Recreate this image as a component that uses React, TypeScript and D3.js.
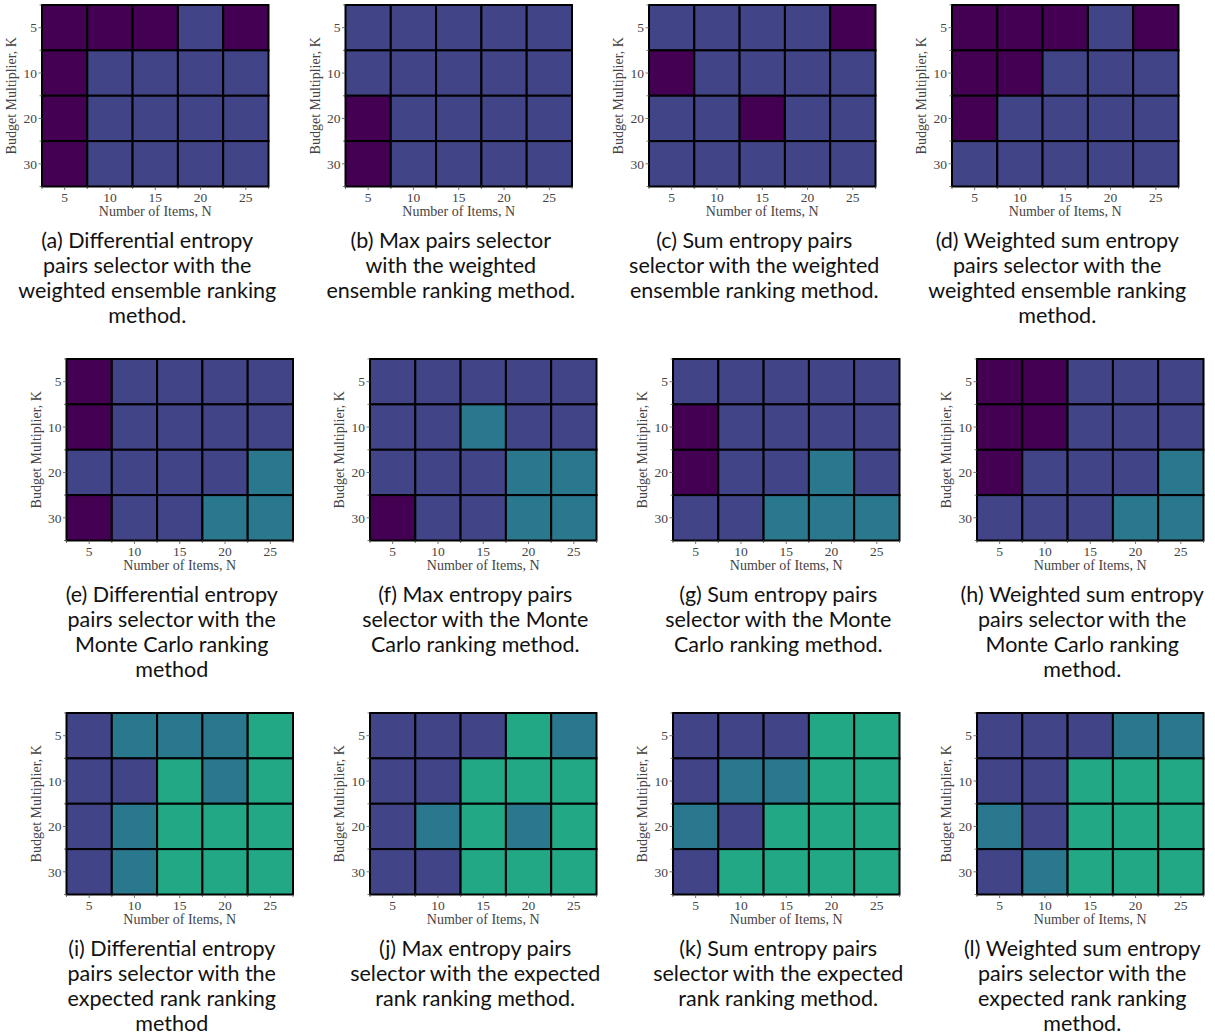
import React from "react";
import * as d3 from "d3";

// Axis categories
const itemsN = [5, 10, 15, 20, 25];
const budgetK = [5, 10, 20, 30];

// Heatmap values (ordinal level 0..3), rows = K (5,10,20,30), cols = N (5..25)
const panelA = [[0, 0, 0, 1, 0], [0, 1, 1, 1, 1], [0, 1, 1, 1, 1], [0, 1, 1, 1, 1]];
const panelB = [[1, 1, 1, 1, 1], [1, 1, 1, 1, 1], [0, 1, 1, 1, 1], [0, 1, 1, 1, 1]];
const panelC = [[1, 1, 1, 1, 0], [0, 1, 1, 1, 1], [1, 1, 0, 1, 1], [1, 1, 1, 1, 1]];
const panelD = [[0, 0, 0, 1, 0], [0, 0, 1, 1, 1], [0, 1, 1, 1, 1], [1, 1, 1, 1, 1]];
const panelE = [[0, 1, 1, 1, 1], [0, 1, 1, 1, 1], [1, 1, 1, 1, 2], [0, 1, 1, 2, 2]];
const panelF = [[1, 1, 1, 1, 1], [1, 1, 2, 1, 1], [1, 1, 1, 2, 2], [0, 1, 1, 2, 2]];
const panelG = [[1, 1, 1, 1, 1], [0, 1, 1, 1, 1], [0, 1, 1, 2, 1], [1, 1, 2, 2, 2]];
const panelH = [[0, 0, 1, 1, 1], [0, 0, 1, 1, 1], [0, 1, 1, 1, 2], [1, 1, 1, 2, 2]];
const panelI = [[1, 2, 2, 2, 3], [1, 1, 3, 2, 3], [1, 2, 3, 3, 3], [1, 2, 3, 3, 3]];
const panelJ = [[1, 1, 1, 3, 2], [1, 1, 3, 3, 3], [1, 2, 3, 2, 3], [1, 1, 3, 3, 3]];
const panelK = [[1, 1, 1, 3, 3], [1, 2, 2, 3, 3], [2, 1, 3, 3, 3], [1, 3, 3, 3, 3]];
const panelL = [[1, 1, 1, 2, 2], [1, 1, 3, 3, 3], [2, 1, 3, 3, 3], [1, 2, 3, 3, 3]];

const captionA = ["(a) Differential entropy", "pairs selector with the", "weighted ensemble ranking", "method."];
const captionB = ["(b) Max pairs selector", "with the weighted", "ensemble ranking method."];
const captionC = ["(c) Sum entropy pairs", "selector with the weighted", "ensemble ranking method."];
const captionD = ["(d) Weighted sum entropy", "pairs selector with the", "weighted ensemble ranking", "method."];
const captionE = ["(e) Differential entropy", "pairs selector with the", "Monte Carlo ranking", "method"];
const captionF = ["(f) Max entropy pairs", "selector with the Monte", "Carlo ranking method."];
const captionG = ["(g) Sum entropy pairs", "selector with the Monte", "Carlo ranking method."];
const captionH = ["(h) Weighted sum entropy", "pairs selector with the", "Monte Carlo ranking", "method."];
const captionI = ["(i) Differential entropy", "pairs selector with the", "expected rank ranking", "method"];
const captionJ = ["(j) Max entropy pairs", "selector with the expected", "rank ranking method."];
const captionK = ["(k) Sum entropy pairs", "selector with the expected", "rank ranking method."];
const captionL = ["(l) Weighted sum entropy", "pairs selector with the", "expected rank ranking", "method."];

const xLabel = "Number of Items, N";
const yLabel = "Budget Multiplier, K";

const panels = [
  { data: panelA, caption: captionA, row: 0, col: 0 },
  { data: panelB, caption: captionB, row: 0, col: 1 },
  { data: panelC, caption: captionC, row: 0, col: 2 },
  { data: panelD, caption: captionD, row: 0, col: 3 },
  { data: panelE, caption: captionE, row: 1, col: 0 },
  { data: panelF, caption: captionF, row: 1, col: 1 },
  { data: panelG, caption: captionG, row: 1, col: 2 },
  { data: panelH, caption: captionH, row: 1, col: 3 },
  { data: panelI, caption: captionI, row: 2, col: 0 },
  { data: panelJ, caption: captionJ, row: 2, col: 1 },
  { data: panelK, caption: captionK, row: 2, col: 2 },
  { data: panelL, caption: captionL, row: 2, col: 3 },
];

// Layout
const rowX0 = [
  [42, 345.5, 649, 952],
  [66.5, 370, 673, 977],
  [66.5, 370, 673, 977],
];
const rowY0 = [5, 359, 713];
const plotW = 226.5;
const plotH = 181.5;

const color = (v: number) => d3.interpolateViridis(v / 5);
const tickColor = "#555";
const serif = "'Liberation Serif', 'DejaVu Serif', serif";
const sans = "Lato, 'Noto Sans', 'Liberation Sans', sans-serif";

function Heatmap({ data, caption, x0, y0 }: { data: number[][]; caption: string[]; x0: number; y0: number }) {
  const xs = d3.scaleBand<number>().domain(itemsN).range([x0, x0 + plotW]).padding(0);
  const ys = d3.scaleBand<number>().domain(budgetK).range([y0, y0 + plotH]).padding(0);
  const bw = xs.bandwidth();
  const bh = ys.bandwidth();
  const cells: { n: number; k: number; v: number }[] = [];
  budgetK.forEach((k, i) => itemsN.forEach((n, j) => cells.push({ n, k, v: data[i][j] })));
  const xBounds = d3.range(itemsN.length + 1).map((i) => x0 + i * bw);
  const yBounds = d3.range(budgetK.length + 1).map((i) => y0 + i * bh);
  const capX = x0 + plotW / 2 - 8;
  return (
    <g>
      {cells.map((c, i) => (
        <rect key={i} x={xs(c.n)} y={ys(c.k)} width={bw} height={bh} fill={color(c.v)} stroke="#000" strokeWidth={2} />
      ))}
      {itemsN.map((n) => (
        <line key={"xt" + n} x1={xs(n)! + bw / 2} x2={xs(n)! + bw / 2} y1={y0 + plotH} y2={y0 + plotH + 3.5} stroke={tickColor} strokeWidth={0.8} />
      ))}
      {xBounds.map((x, i) => (
        <line key={"xb" + i} x1={x} x2={x} y1={y0 + plotH} y2={y0 + plotH + 2.5} stroke={tickColor} strokeWidth={0.8} />
      ))}
      {budgetK.map((k) => (
        <line key={"yt" + k} x1={x0 - 3.5} x2={x0} y1={ys(k)! + bh / 2} y2={ys(k)! + bh / 2} stroke={tickColor} strokeWidth={0.8} />
      ))}
      {yBounds.map((y, i) => (
        <line key={"yb" + i} x1={x0 - 2.5} x2={x0} y1={y} y2={y} stroke={tickColor} strokeWidth={0.8} />
      ))}
      {itemsN.map((n) => (
        <text key={"xl" + n} x={xs(n)! + bw / 2} y={y0 + plotH + 15} textAnchor="middle" fontFamily={serif} fontSize={13.5} fill="#444">
          {n}
        </text>
      ))}
      {budgetK.map((k) => (
        <text key={"yl" + k} x={x0 - 5} y={ys(k)! + bh / 2 + 4.7} textAnchor="end" fontFamily={serif} fontSize={13.5} fill="#444">
          {k}
        </text>
      ))}
      <text x={x0 + plotW / 2} y={y0 + plotH + 29.5} textAnchor="middle" fontFamily={serif} fontSize={14} fill="#444">
        {xLabel}
      </text>
      <text
        transform={`translate(${x0 - 26},${y0 + plotH / 2}) rotate(-90)`}
        textAnchor="middle"
        fontFamily={serif}
        fontSize={14}
        fill="#444"
      >
        {yLabel}
      </text>
      {caption.map((line, i) => (
        <text key={"c" + i} x={capX} y={y0 + plotH + 61.5 + i * 25} textAnchor="middle" fontFamily={sans} fontSize={21.5} fill="#111">
          {line}
        </text>
      ))}
    </g>
  );
}

export default function App() {
  return (
    <svg width={1215} height={1035} style={{ position: "absolute", left: 0, top: 0, background: "#fff" }}>
      <rect x={0} y={0} width={1215} height={1035} fill="#fff" />
      {panels.map((p, i) => (
        <Heatmap key={i} data={p.data} caption={p.caption} x0={rowX0[p.row][p.col]} y0={rowY0[p.row]} />
      ))}
    </svg>
  );
}
